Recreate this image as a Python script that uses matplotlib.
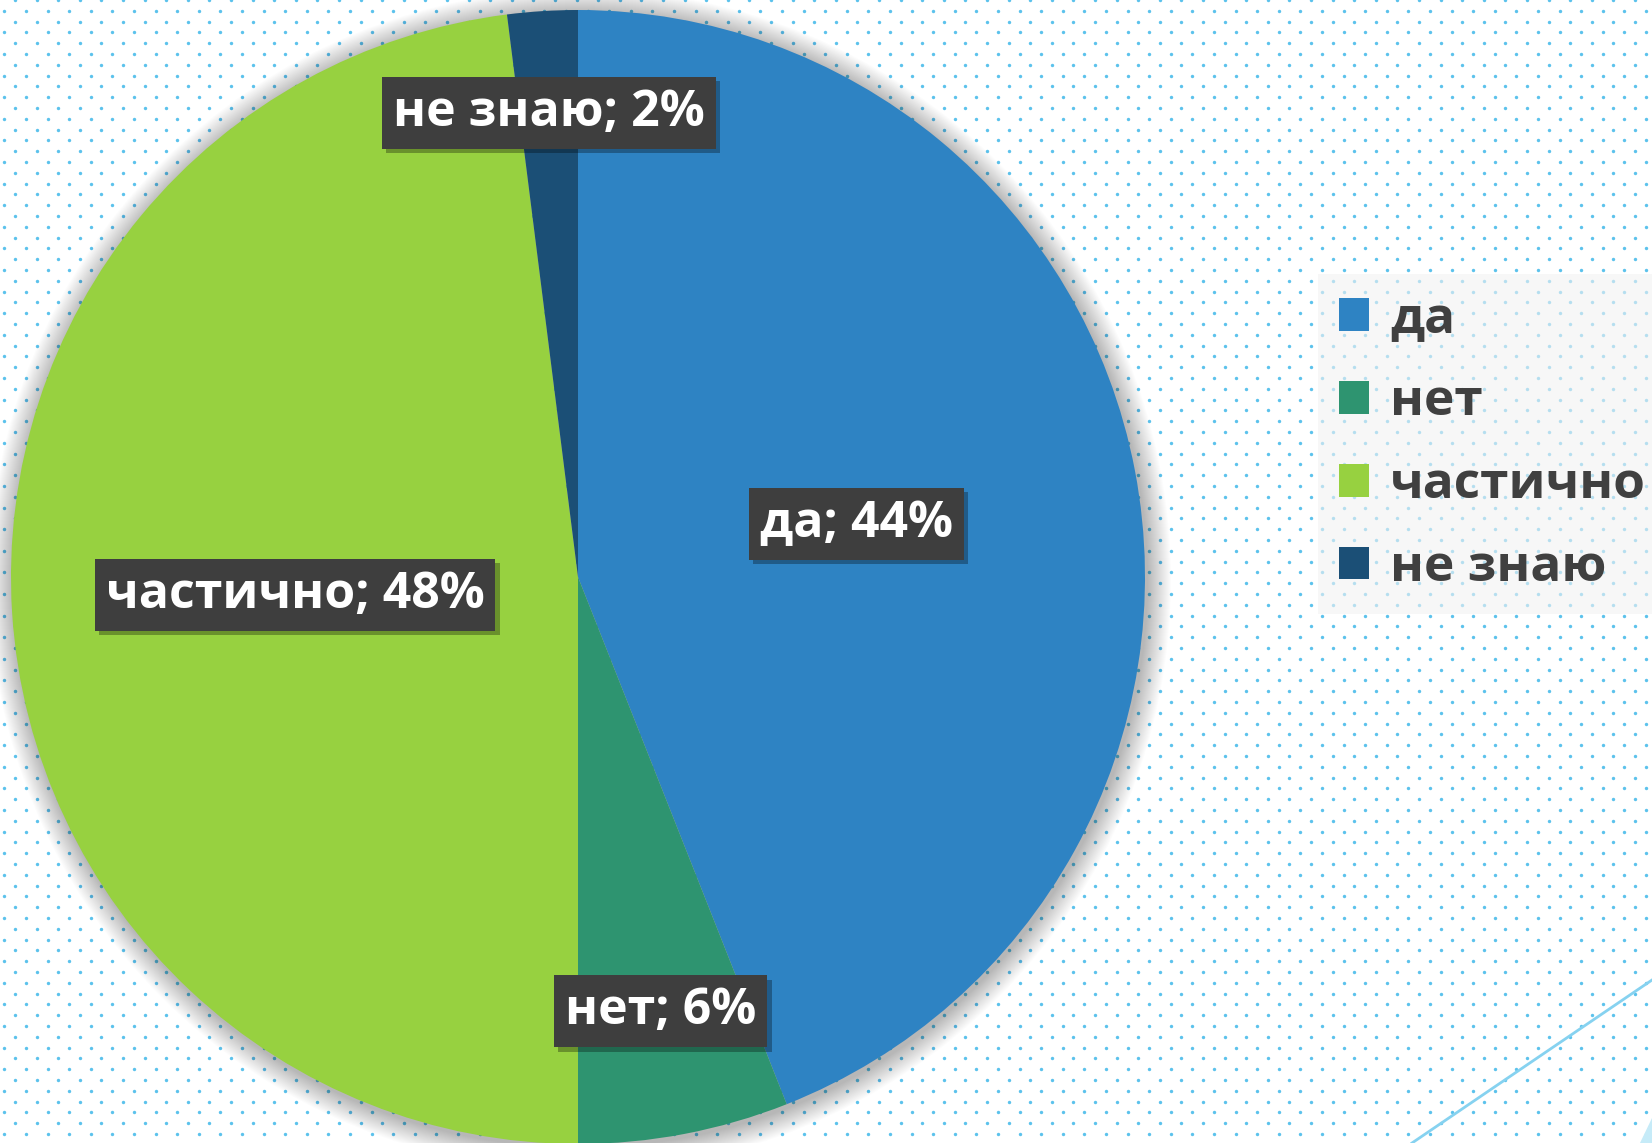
import numpy as np
import matplotlib
matplotlib.use("Agg")
import matplotlib.pyplot as plt
import matplotlib.patheffects as pe
from matplotlib.patches import Circle, Patch, Polygon

# answer shares, clockwise from 12 o'clock
labels = ["да", "нет", "частично", "не знаю"]
shares = [44, 6, 48, 2]
colors = ["#2E83C3", "#2E9470", "#97D140", "#1B4F76"]
# how far out (fraction of radius) each data label sits
label_dist = [0.5, 0.78, 0.5, 0.82]

W, H = 1652, 1143
FONT = "Open Sans"
TXT = "#404040"

fig = plt.figure(figsize=(W / 100, H / 100), dpi=100)
ax = fig.add_axes([0, 0, 1, 1])

# dotted background
xs, ys = [], []
for i, yt in enumerate(np.arange(0, H + 11, 10.8)):
    x0 = 15 if i % 2 == 0 else 4.3
    for x in np.arange(x0, W + 22, 21.6):
        xs.append(x)
        ys.append(H - yt)
ax.scatter(xs, ys, s=6, color="#5cc2ec", linewidths=0, zorder=0)

# thin decorative line, lower right
ax.plot([1412, 1652], [0, 163], color="#86d2f0", lw=2, zorder=1)
ax.add_patch(Polygon([[1640, 0], [1652, 0], [1652, 25]], closed=True,
                     color="#c6ebf8", lw=0, zorder=1))

cx, cy, R = 578, 566, 567

# soft shadow around the pie
for k in range(24, 0, -1):
    ax.add_patch(Circle((cx + 2, cy - 3), R + k, color="#000000",
                        alpha=0.011, lw=0, zorder=2))

wedges, _ = ax.pie(shares, colors=colors, startangle=90, counterclock=False,
                   center=(cx, cy), radius=R,
                   wedgeprops=dict(linewidth=0))
for w in wedges:
    w.set_zorder(3)

# data labels in dark boxes with a drop shadow
total = sum(shares)
start = 90.0
for lab, val, d in zip(labels, shares, label_dist):
    mid = np.deg2rad(start - val / total * 180)
    start -= val / total * 360
    x = cx + d * R * np.cos(mid)
    y = cy + d * R * np.sin(mid)
    t = ax.text(x, y, f"{lab}; {val}%", ha="center", va="center",
                fontsize=36, fontfamily=FONT, fontweight="bold",
                color="white", zorder=5,
                bbox=dict(boxstyle="square,pad=0.22", fc="#3e3e3e",
                          ec="none"))
    t.get_bbox_patch().set_path_effects(
        [pe.SimplePatchShadow(offset=(3, -3), shadow_rgbFace="black",
                              alpha=0.3),
         pe.Normal()])

handles = [Patch(facecolor=c, edgecolor="none") for c in colors]
leg = ax.legend(handles, labels, loc="upper left",
                bbox_to_anchor=(1318 / W, (H - 274) / H),
                bbox_transform=fig.transFigure,
                prop=dict(family=FONT, weight="bold", size=37),
                handlelength=0.6, handleheight=0.6, handletextpad=0.4,
                labelspacing=0.64, borderpad=0.4, borderaxespad=0,
                frameon=True, fancybox=False, facecolor="#f2f2f2",
                edgecolor="none", framealpha=0.6)
for t in leg.get_texts():
    t.set_color(TXT)
leg.set_zorder(6)

ax.set_xlim(0, W)
ax.set_ylim(0, H)
ax.set_aspect("equal")
ax.axis("off")

fig.savefig("out.png", dpi=100, facecolor="white")
